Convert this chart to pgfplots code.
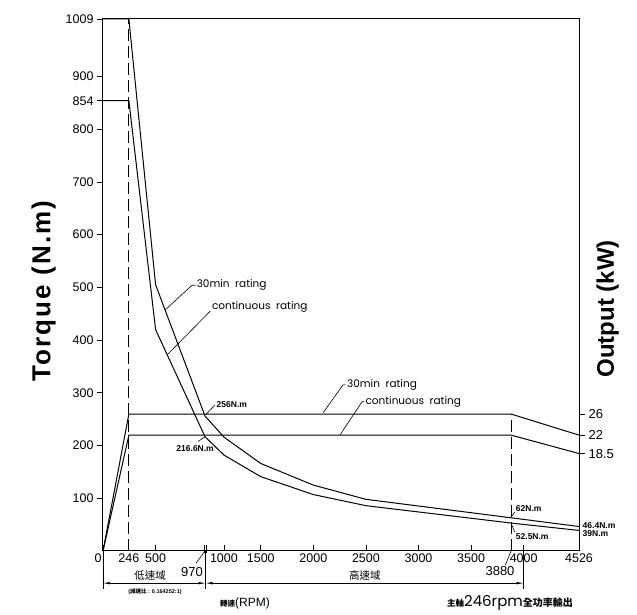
\documentclass[border=0pt]{standalone}
\usepackage{pgfplots}
\pgfplotsset{compat=1.18}
\usepackage{fontspec}
\setmainfont{Liberation Sans}
\newfontfamily\cjk{Noto Sans CJK TC}
\newfontfamily\geo{Poppins}
\newfontfamily\lblfont[LetterSpace=8]{Liberation Sans}
\usetikzlibrary{arrows.meta}
\begin{document}
\begin{tikzpicture}[font=\fontsize{12.5}{14}\selectfont]
\useasboundingbox (-103pt,-64pt) rectangle (534pt,551pt);
% ---------- torque axis (left) ----------
\begin{axis}[
  at={(0pt,0pt)}, anchor=south west,
  scale only axis, width=476pt, height=532pt,
  xmin=0, xmax=4526, ymin=0, ymax=1009,
  clip=false,
  axis line style={line width=1pt},
  xtick=\empty,
  ytick={100,200,300,400,500,600,700,800,900,854,1009},
  ytick pos=left, tick align=outside,
  major tick length=6pt,
  every tick/.style={line width=0.8pt, black},
  yticklabel style={font=\fontsize{12.5}{14}\selectfont},
  /pgf/number format/assume math mode=true,
  /pgf/number format/1000 sep={},
  ylabel={Torque (N.m)},
  ylabel style={font=\lblfont\fontsize{26}{28}\selectfont\bfseries, yshift=3pt, xshift=-6pt},
]
% 30min torque
\addplot[line width=1pt, black] coordinates {(0,1009)(246,1009)(500,505)(970,256)(1150,216)(1500,166)(2000,125)(2500,98)(3880,63)(4526,46.4)};
% continuous torque
\addplot[line width=1pt, black] coordinates {(0,854)(246,854)(500,420)(970,216.6)(1150,182)(1500,141)(2000,107)(2500,86)(3880,53)(4526,39)};
% dashed verticals
\addplot[line width=0.8pt, black, dash pattern=on 12pt off 5pt] coordinates {(246,0)(246,1009)};
\addplot[line width=0.8pt, black, dash pattern=on 12pt off 5pt] coordinates {(3880,0)(3880,260)};

% torque annotations
\draw[line width=0.6pt] (axis cs:590,457) -- (axis cs:846,504) -- (axis cs:880,504);
\node[anchor=west, font=\geo\fontsize{10.5}{12}\selectfont, inner sep=1pt] at (axis cs:880,504) {30min\ \ rating};
\draw[line width=0.6pt] (axis cs:610,372) -- (axis cs:1020,455);
\node[anchor=west, font=\geo\fontsize{10.5}{12}\selectfont, inner sep=1pt] at (axis cs:1025,463) {continuous\ \ rating};
\draw[line width=0.6pt] (axis cs:975,258) -- (axis cs:1065,277);
\node[anchor=west, font=\bfseries\fontsize{8.5}{10}\selectfont, inner sep=1pt] at (axis cs:1070,277) {256N.m};
\draw[line width=0.6pt] (axis cs:970,216.6) -- (axis cs:906,208);
\node[anchor=east, font=\bfseries\fontsize{8.5}{10}\selectfont, inner sep=1pt] at (axis cs:1065,195) {216.6N.m};
\draw[line width=0.6pt] (axis cs:3880,64) -- (axis cs:3915,74);
\node[anchor=west, font=\bfseries\fontsize{8.5}{10}\selectfont, inner sep=1pt] at (axis cs:3915,80) {62N.m};
\draw[line width=0.6pt] (axis cs:3880,53) -- (axis cs:3915,36);
\node[anchor=west, font=\bfseries\fontsize{8.5}{10}\selectfont, inner sep=1pt] at (axis cs:3915,28) {52.5N.m};
\node[anchor=west, font=\bfseries\fontsize{8.5}{10}\selectfont, inner sep=1pt] at (axis cs:4550,48) {46.4N.m};
\node[anchor=west, font=\bfseries\fontsize{8.5}{10}\selectfont, inner sep=1pt] at (axis cs:4550,33) {39N.m};

% power annotations
\draw[line width=0.6pt] (axis cs:2092,262) -- (axis cs:2282,315) -- (axis cs:2310,315);
\node[anchor=west, font=\geo\fontsize{10.5}{12}\selectfont, inner sep=1pt] at (axis cs:2310,315) {30min\ \ rating};
\draw[line width=0.6pt] (axis cs:2253,220) -- (axis cs:2463,283) -- (axis cs:2485,283);
\node[anchor=west, font=\geo\fontsize{10.5}{12}\selectfont, inner sep=1pt] at (axis cs:2485,283) {continuous\ \ rating};

% axis break marks
\draw[line width=0.7pt] (axis cs:960,-3) -- (axis cs:960,12);
\draw[line width=0.7pt] (axis cs:985,-3) -- (axis cs:985,12);

% dimension lines below axis
\draw[line width=0.6pt] (axis cs:0,0) -- (axis cs:0,-72);
\draw[line width=0.6pt] (axis cs:975,0) -- (axis cs:975,-72);
\draw[line width=0.6pt] (axis cs:4000,0) -- (axis cs:4000,-72);
\draw[line width=0.6pt, {Latex[length=7pt,width=2.5pt]}-{Latex[length=7pt,width=2.5pt]}] (axis cs:0,-61) -- (axis cs:975,-61);
\draw[line width=0.6pt, {Latex[length=7pt,width=2.5pt]}-{Latex[length=7pt,width=2.5pt]}] (axis cs:975,-61) -- (axis cs:4000,-61);
\node[font=\cjk\fontsize{10.5}{12}\selectfont] at (axis cs:447,-46) {低速域};
\node[font=\cjk\fontsize{10.5}{12}\selectfont] at (axis cs:2491,-46) {高速域};
\node[font=\fontsize{5.5}{6}\selectfont\bfseries] at (axis cs:494,-78) {({\cjk 減速比} : 0.164252:1)};
\draw[line width=0.6pt] (axis cs:885,-23) -- (axis cs:970,0);
\node[font=\fontsize{13}{15}\selectfont] at (axis cs:846,-40) {970};
\draw[line width=0.6pt] (axis cs:3825,-27) -- (axis cs:3880,0);
\node[font=\fontsize{13}{15}\selectfont] at (axis cs:3775,-38) {3880};
\node[font=\fontsize{12}{14}\selectfont] at (axis cs:1350,-99) {{\cjk\bfseries\fontsize{7.5}{9}\selectfont 轉速}(RPM)};
\node[font=\fontsize{15}{17}\selectfont] at (axis cs:3870,-99) {{\cjk\bfseries\fontsize{8.5}{10}\selectfont 主軸}{\geo 246rpm}{\cjk\bfseries\fontsize{10}{12}\selectfont 全功率輸出}};
\end{axis}
% ---------- x axis ----------
\begin{axis}[
  at={(0pt,0pt)}, anchor=south west,
  scale only axis, width=476pt, height=532pt,
  xmin=0, xmax=4526, ymin=0, ymax=1009,
  axis y line=none, axis x line*=bottom,
  axis line style={line width=1pt},
  tick align=inside, major tick length=6pt,
  every tick/.style={line width=0.8pt, black},
  xtick={0,246,500,1150,1500,2000,2500,3000,3500,4000,4526},
  xticklabels={0\hspace*{10pt},246,500,1000,1500,2000,2500,3000,3500,4000,4526},
  xticklabel style={font=\fontsize{12.5}{14}\selectfont, yshift=1pt},
]
\end{axis}
% ---------- power axis (right) ----------
\begin{axis}[
  at={(0pt,0pt)}, anchor=south west,
  scale only axis, width=476pt, height=532pt,
  xmin=0, xmax=4526, ymin=0, ymax=101,
  clip=false,
  axis x line=none, axis y line*=right,
  axis line style={line width=1pt},
  tick align=outside, major tick length=6pt,
  every tick/.style={line width=0.8pt, black},
  ytick={18.5,22,26},
  yticklabels={18.5,22,26},
  yticklabel style={font=\fontsize{13}{15}\selectfont},
]
\addplot[line width=1pt, black] coordinates {(0,0)(246,26)(3880,26)(4526,22)};
\addplot[line width=1pt, black] coordinates {(0,0)(246,22)(3880,22)(4526,18.5)};
\node[rotate=90, anchor=north, font=\fontsize{24}{28}\selectfont\bfseries] at ([xshift=14pt]rel axis cs:1,0.455) {Output (kW)};
\end{axis}
\end{tikzpicture}
\end{document}
